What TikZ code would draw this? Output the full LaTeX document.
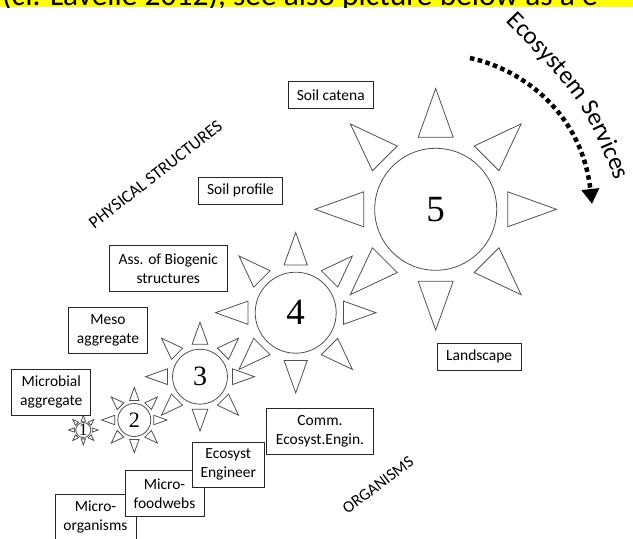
\documentclass[tikz,border=0pt]{standalone}
\usepackage{fontspec}
\setmainfont{Carlito}
\newfontfamily\boxfont{Carlito}
\newfontfamily\numfont{Liberation Serif}
\usetikzlibrary{calc,arrows.meta,decorations.text}
\definecolor{hl}{HTML}{FFFF00}
\definecolor{sunline}{HTML}{505050}
\newcommand{\ecofont}{\boxfont\fontsize{25}{25}\selectfont}
\tikzset{
  box/.style={draw=black!85, fill=white, line width=0.9pt, align=center, inner sep=0pt,
    font=\boxfont\fontsize{15.5}{19}\selectfont},
  sunc/.style={circle, draw=sunline, line width=0.8pt, inner sep=0pt},
  tri/.style={draw=sunline, line width=0.8pt, line join=miter},
  slant/.style={font=\boxfont\fontsize{17.5}{19}\selectfont, inner sep=0pt},
}
\newcommand{\mysun}[6]{%
  \node[sunc, minimum size=#4*2pt, font=\numfont\fontsize{#5}{#5}\selectfont] (#1) at (#2,#3) {#6};
  \foreach \ang in {0,45,...,315}{
    \draw[tri] ($(#1.center)+(\ang:{1.98*#4})$) -- ($(#1.center)+(\ang:{1.18*#4})+(\ang+90:{0.287*#4})$) -- ($(#1.center)+(\ang:{1.18*#4})+(\ang-90:{0.287*#4})$) -- cycle;
  }
}
\begin{document}
\begin{tikzpicture}[x=1pt,y=-1pt]
\useasboundingbox (0,0) rectangle (633,539);
\begin{scope}
\clip (0,0) rectangle (633,539);
% yellow strip
\fill[hl] (0,0) rectangle (633,7);
\begin{scope}
\clip (0,0) rectangle (633,7);
\node[anchor=base west, inner sep=0pt, font=\fontsize{31.5}{31.5}\selectfont] (top) at (2,5) {(cf. Lavelle 2012), see also picture below as a e};
\end{scope}

% suns
\mysun{s1}{83.3}{430}{7.5}{17.5}{1}
\mysun{s2}{134.3}{420}{16.5}{22}{2}
\mysun{s3}{200}{376.7}{27.5}{28}{3}
\mysun{s4}{295.7}{312.7}{40.5}{37}{4}
\mysun{s5}{435.7}{209.3}{61}{37}{5}

% boxes
\node[box, minimum width=85, minimum height=26.6] (catena) at (330.8,95) {Soil catena};
\node[box, minimum width=84.4, minimum height=27] (profile) at (240.5,190.8) {Soil profile};
\node[box, minimum width=118, minimum height=46.7] (biog) at (168.3,268.3) {Ass. of Biogenic\\structures};
\node[box, minimum width=79.4, minimum height=45.6] (meso) at (108,330.5) {Meso\\aggregate};
\node[box, minimum width=79, minimum height=45.7] (microb) at (51.2,392.2) {Microbial\\aggregate};
\node[box, minimum width=83.7, minimum height=26.7] (land) at (479.2,356.7) {Landscape};
\node[box, minimum width=81, minimum height=46] (orgs) at (95.5,517.3) {Micro-\\organisms};
\node[box, minimum width=79, minimum height=45.3] (food) at (164.5,493.3) {Micro-\\foodwebs};
\node[box, minimum width=71.3, minimum height=45] (eng) at (228.3,464.8) {Ecosyst\\Engineer};
\node[box, minimum width=106.6, minimum height=46] (comm) at (320,431.3) {Comm.\\Ecosyst.Engin.};

% slanted labels
\node[slant, rotate=38] (phys) at (155.5,174.5) {PHYSICAL STRUCTURES};
\node[slant, font=\boxfont\fontsize{16.5}{19}\selectfont, rotate=37] (org) at (378,485) {ORGANISMS};

% Ecosystem Services along a curve
\coordinate (es) at (503,19);
\coordinate (ec) at (582,100);
\coordinate (ee) at (617,184);
\path[decorate, decoration={text along path, text align=center, text={|\ecofont|Ecosystem Services}}]
  (es) .. controls (ec) .. (ee);

% dotted arrow
\coordinate (ds) at (470,58);
\coordinate (de) at (592,204);
\draw[line width=4.5pt, dash pattern=on 4.5pt off 3.5pt, -{Triangle[width=17pt,length=15pt]}]
  (ds) .. controls (525,70) and (582,115) .. (de);
\end{scope}
\end{tikzpicture}
\end{document}
